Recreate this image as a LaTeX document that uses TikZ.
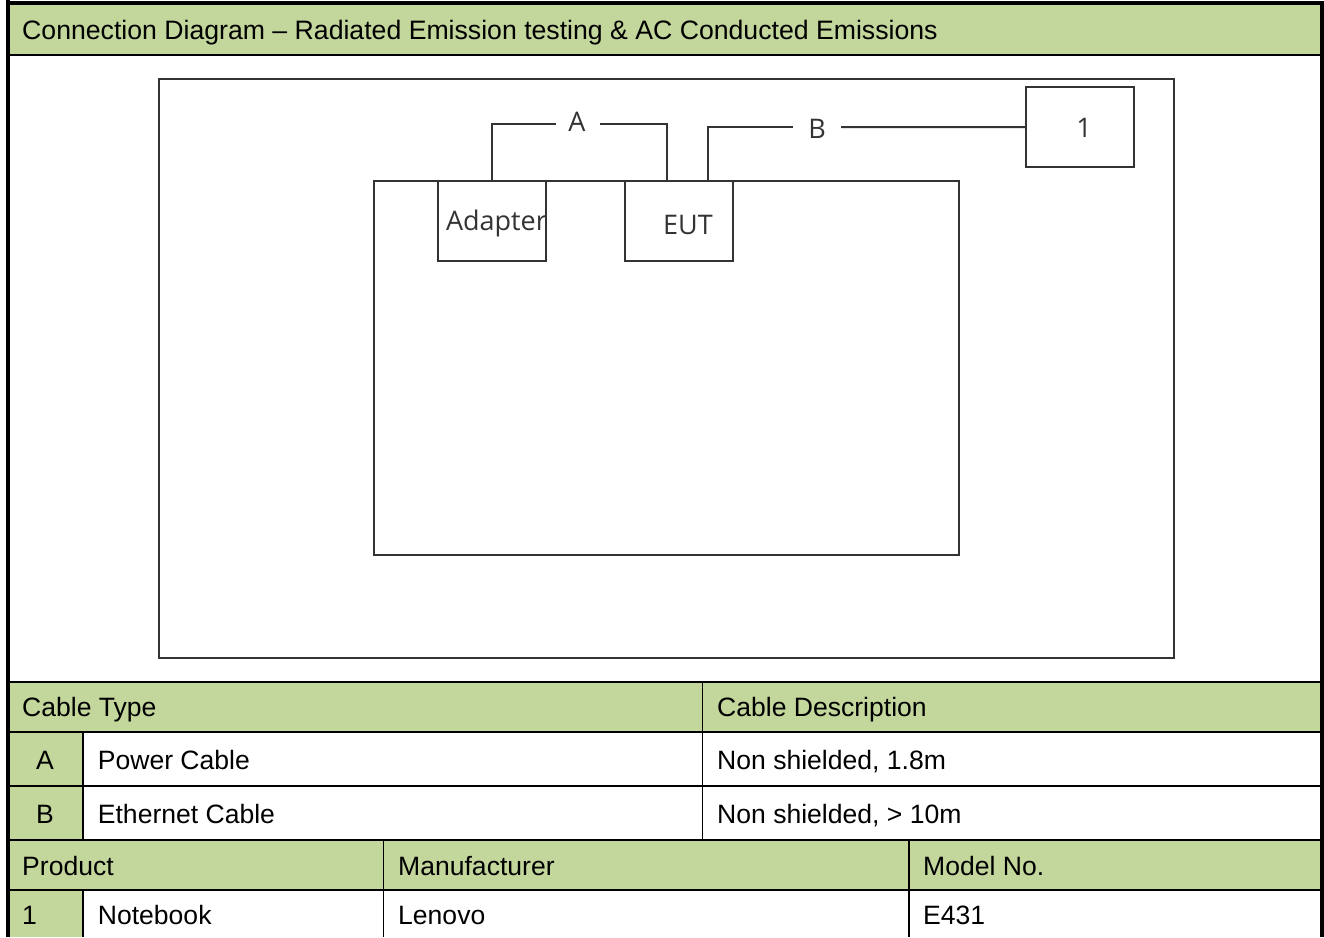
\documentclass[tikz,border=0pt]{standalone}
\usepackage{fontspec}
\setmainfont{Liberation Sans}
\newfontfamily\diafont{Open Sans}
\definecolor{hdr}{HTML}{C3D69B}
\definecolor{dia}{HTML}{333333}
\begin{document}
\begin{tikzpicture}[x=1pt,y=-1pt,
  band/.style={fill=hdr,draw=none},
  rule/.style={line width=1.9pt,black},
  frame/.style={line width=3.8pt,black},
  tabtext/.style={anchor=base west,inner sep=0pt,font=\fontsize{26.55}{30}\selectfont,text=black},
  midtext/.style={anchor=base,inner sep=0pt,font=\fontsize{26.55}{30}\selectfont,text=black},
  diabox/.style={draw=dia,line width=2pt,anchor=north west,inner sep=0pt,outer sep=0pt},
  dialine/.style={draw=dia,line width=2pt},
  dialabel/.style={inner sep=0pt,outer sep=0pt,text=dia,font=\diafont\fontsize{27}{30}\selectfont},
  gap/.style={dialabel,minimum height=12pt}]
\useasboundingbox (0,0) rectangle (1324,937);
% green bands
\fill[band] (8,4) rectangle (1322,54.5);
\fill[band] (8,682) rectangle (1322,732);
\fill[band] (8,732) rectangle (82.5,840);
\fill[band] (8,840) rectangle (1322,890);
\fill[band] (8,890) rectangle (82.5,937);
% table rules
\draw[rule] (8,54.6) -- (1322,54.6);
\draw[rule] (8,682) -- (1322,682);
\draw[rule] (8,732) -- (1322,732);
\draw[rule] (8,786) -- (1322,786);
\draw[rule] (8,840) -- (1322,840);
\draw[rule] (8,890.3) -- (1322,890.3);
\draw[rule] (82.7,732) -- (82.7,840);
\draw[rule] (82.7,890) -- (82.7,937);
\draw[rule] (702.5,682) -- (702.5,840);
\draw[rule] (383.5,840) -- (383.5,937);
\draw[rule] (909,840) -- (909,937);
% outer frame
\draw[frame] (8,0) -- (8,937);
\draw[frame] (1322,3) -- (1322,937);
\draw[frame] (6,3.3) -- (1324,3.3);
% table text
\node[tabtext,font=\fontsize{26.65}{30}\selectfont] (title) at (22,39) {Connection Diagram – Radiated Emission testing \& AC Conducted Emissions};
\node[tabtext] (cabletype) at (22,716) {Cable Type};
\node[tabtext] (cabledesc) at (717,716) {Cable Description};
\node[midtext] (cellA) at (45,769) {A};
\node[tabtext] (powercable) at (97.7,769) {Power Cable};
\node[tabtext] (descA) at (717,769) {Non shielded, 1.8m};
\node[midtext] (cellB) at (45,823) {B};
\node[tabtext] (ethcable) at (97.7,823) {Ethernet Cable};
\node[tabtext] (descB) at (717,823) {Non shielded, > 10m};
\node[tabtext] (product) at (22,875) {Product};
\node[tabtext] (manuf) at (398,875) {Manufacturer};
\node[tabtext] (model) at (923,875) {Model No.};
\node[tabtext] (cell1) at (22,924.5) {1};
\node[tabtext] (notebook) at (97.7,924.5) {Notebook};
\node[tabtext] (lenovo) at (398,924.5) {Lenovo};
\node[tabtext] (e431) at (923,924.5) {E431};
% diagram
\node[diabox,minimum width=1015.6pt,minimum height=579.6pt] (room) at (158.5,78.5) {};
\node[diabox,minimum width=584.6pt,minimum height=374.2pt] (table) at (374,181) {};
\node[diabox,minimum width=108pt,minimum height=80.2pt] (adapter) at (438,181) {};
\node[diabox,minimum width=108pt,minimum height=80.2pt] (eut) at (625,181) {};
\node[diabox,minimum width=108pt,minimum height=80.2pt] (pc) at (1025.5,87) {};
\node[dialabel,anchor=base west] (adaptertext) at (446,230) {Adapter};
\node[dialabel,anchor=base] (euttext) at (688,234) {EUT};
\node[dialabel,anchor=base] (pctext) at (1084,137) {1};
\node[gap,minimum width=44.5pt] (labelA) at (578.2,123.5) {};
\node[dialabel,anchor=base] (labelAtext) at (577,131.5) {A};
\node[gap,minimum width=48pt] (labelB) at (817,127.1) {};
\node[dialabel,anchor=base] (labelBtext) at (817,138) {B};
\coordinate (eutA) at (667,181);
\coordinate (eutB) at (707.5,181);
\draw[dialine] (adapter.north) |- (labelA.west);
\draw[dialine] (labelA.east) -| (eutA);
\draw[dialine] (eutB) |- (labelB.west);
\draw[dialine] (labelB.east) -- (pc.west);
\end{tikzpicture}
\end{document}
